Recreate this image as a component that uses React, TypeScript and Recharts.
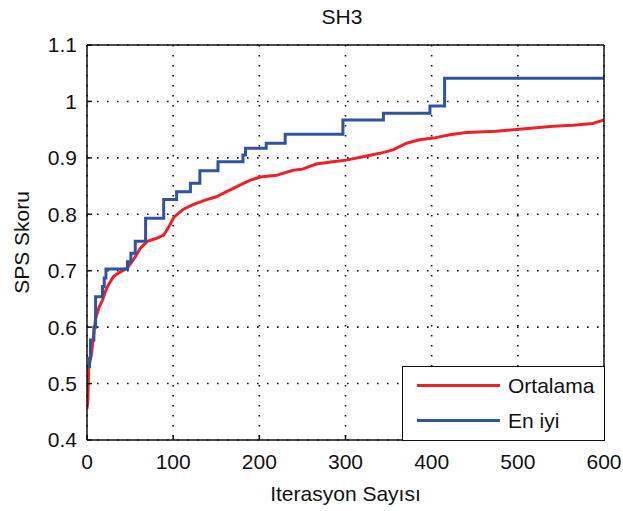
import React from 'react';
import { CartesianGrid, Line, LineChart, XAxis, YAxis } from 'recharts';

// ── Data ──────────────────────────────────────────────────────────────────────

// Ortalama (population average) — sampled along the curve
const AVG_ITER = [
  0, 1, 2, 5, 8, 10, 14, 18, 22, 26, 31, 39, 47, 55, 62, 70, 80, 89, 95, 101,
  112, 123, 139, 150, 162, 178, 189, 201, 220, 239, 250, 266, 285, 301, 320, 340,
  355, 371, 386, 402, 421, 440, 475, 495, 518, 541, 564, 587, 600,
];
const AVG_SCORE = [
  0.455, 0.47, 0.53, 0.55, 0.59, 0.615, 0.635, 0.648, 0.666, 0.678, 0.69, 0.698,
  0.705, 0.722, 0.74, 0.752, 0.757, 0.763, 0.778, 0.795, 0.809, 0.817, 0.826,
  0.831, 0.84, 0.852, 0.86, 0.866, 0.869, 0.878, 0.88, 0.889, 0.893, 0.896, 0.902,
  0.908, 0.914, 0.926, 0.932, 0.935, 0.941, 0.945, 0.947, 0.95, 0.953, 0.956,
  0.958, 0.961, 0.967,
];

// En iyi (best so far) — step changes only
const BEST_ITER = [
  0, 3, 4, 8, 10, 18, 20, 22, 47, 51, 56, 68, 89, 104, 120, 131, 152, 181, 184,
  208, 230, 297, 344, 398, 415, 600,
];
const BEST_SCORE = [
  0.53, 0.545, 0.577, 0.6, 0.654, 0.672, 0.687, 0.703, 0.716, 0.731, 0.752, 0.793,
  0.826, 0.84, 0.855, 0.877, 0.893, 0.905, 0.917, 0.926, 0.942, 0.967, 0.979,
  0.992, 1.041, 1.041,
];

const X_TICKS = [0, 100, 200, 300, 400, 500, 600];
const Y_TICKS = [0.4, 0.5, 0.6, 0.7, 0.8, 0.9, 1.0, 1.1];

const avgData = AVG_ITER.map((x, i) => ({ x, y: AVG_SCORE[i] }));
const bestData = BEST_ITER.map((x, i) => ({ x, y: BEST_SCORE[i] }));

// ── Style ─────────────────────────────────────────────────────────────────────

const FONT = '"Liberation Sans", Arial, sans-serif';
const RED = '#ee2128';
const BLUE = '#3053a5';
const INK = '#111';
const W = 623;
const H = 511;

const tickStyle = { fontSize: 21, fill: INK, fontFamily: FONT };
const yFmt = (v: number) => String(+v.toFixed(1));

function LegendBox() {
  const row = (color: string, label: string, top: number) => (
    <div style={{ position: 'absolute', left: 0, top, width: '100%', height: 24 }}>
      <div style={{ position: 'absolute', left: 14, top: 10, width: 83, height: 3, background: color }} />
      <div style={{ position: 'absolute', left: 105, top: 0, lineHeight: '24px', fontSize: 21, color: INK }}>
        {label}
      </div>
    </div>
  );
  return (
    <div
      style={{
        position: 'absolute', left: 402, top: 366, width: 203, height: 75,
        boxSizing: 'border-box', border: `1.5px solid ${INK}`, background: '#fff',
        fontFamily: FONT,
      }}
    >
      {row(RED, 'Ortalama', 7)}
      {row(BLUE, 'En iyi', 42)}
    </div>
  );
}

export default function App() {
  return (
    <div style={{ position: 'absolute', left: 0, top: 0, width: W, height: H, background: '#fff' }}>
      <div
        style={{
          position: 'absolute', left: 242, top: 5, width: 200, textAlign: 'center',
          fontFamily: FONT, fontSize: 21, lineHeight: '24px', color: INK,
        }}
      >
        SH3
      </div>

      <LineChart width={W} height={H} margin={{ top: 45, right: 19, bottom: 0, left: 0 }}>
        <CartesianGrid
          stroke={INK}
          strokeWidth={1.6}
          strokeDasharray="1.6 8.4"
          verticalValues={X_TICKS}
          horizontalValues={Y_TICKS}
        />

        {/* bottom axis: labels outside, ticks pointing in */}
        <XAxis
          dataKey="x"
          type="number"
          domain={[0, 600]}
          ticks={X_TICKS}
          interval={0}
          height={71}
          tickSize={-5}
          tickMargin={19}
          tick={tickStyle}
          axisLine={{ stroke: INK, strokeWidth: 1.5 }}
          tickLine={{ stroke: INK, strokeWidth: 1.5 }}
          allowDataOverflow
          label={{ value: 'Iterasyon Sayısı', position: 'insideBottom', offset: 10, style: { ...tickStyle } }}
        />
        {/* top edge of the box with inward ticks */}
        <XAxis
          xAxisId="top"
          orientation="top"
          mirror
          type="number"
          domain={[0, 600]}
          ticks={X_TICKS}
          interval={0}
          tick={false}
          tickSize={5}
          axisLine={{ stroke: INK, strokeWidth: 1.5 }}
          tickLine={{ stroke: INK, strokeWidth: 1.5 }}
          allowDataOverflow
        />

        <YAxis
          type="number"
          domain={[0.4, 1.1]}
          ticks={Y_TICKS}
          interval={0}
          width={87}
          tickSize={-5}
          tickMargin={15}
          tickFormatter={yFmt}
          tick={tickStyle}
          axisLine={{ stroke: INK, strokeWidth: 1.5 }}
          tickLine={{ stroke: INK, strokeWidth: 1.5 }}
          allowDataOverflow
          label={{
            value: 'SPS Skoru', angle: -90, position: 'insideLeft', offset: 22,
            style: { ...tickStyle, textAnchor: 'middle' },
          }}
        />
        {/* right edge of the box with inward ticks */}
        <YAxis
          yAxisId="right"
          orientation="right"
          mirror
          type="number"
          domain={[0.4, 1.1]}
          ticks={Y_TICKS}
          interval={0}
          tick={false}
          tickSize={5}
          axisLine={{ stroke: INK, strokeWidth: 1.5 }}
          tickLine={{ stroke: INK, strokeWidth: 1.5 }}
          allowDataOverflow
        />

        <Line
          data={avgData}
          dataKey="y"
          name="Ortalama"
          type="linear"
          stroke={RED}
          strokeWidth={3}
          dot={false}
          activeDot={false}
          isAnimationActive={false}
        />
        <Line
          data={bestData}
          dataKey="y"
          name="En iyi"
          type="stepAfter"
          stroke={BLUE}
          strokeWidth={3}
          dot={false}
          activeDot={false}
          isAnimationActive={false}
        />
      </LineChart>

      <LegendBox />
    </div>
  );
}
